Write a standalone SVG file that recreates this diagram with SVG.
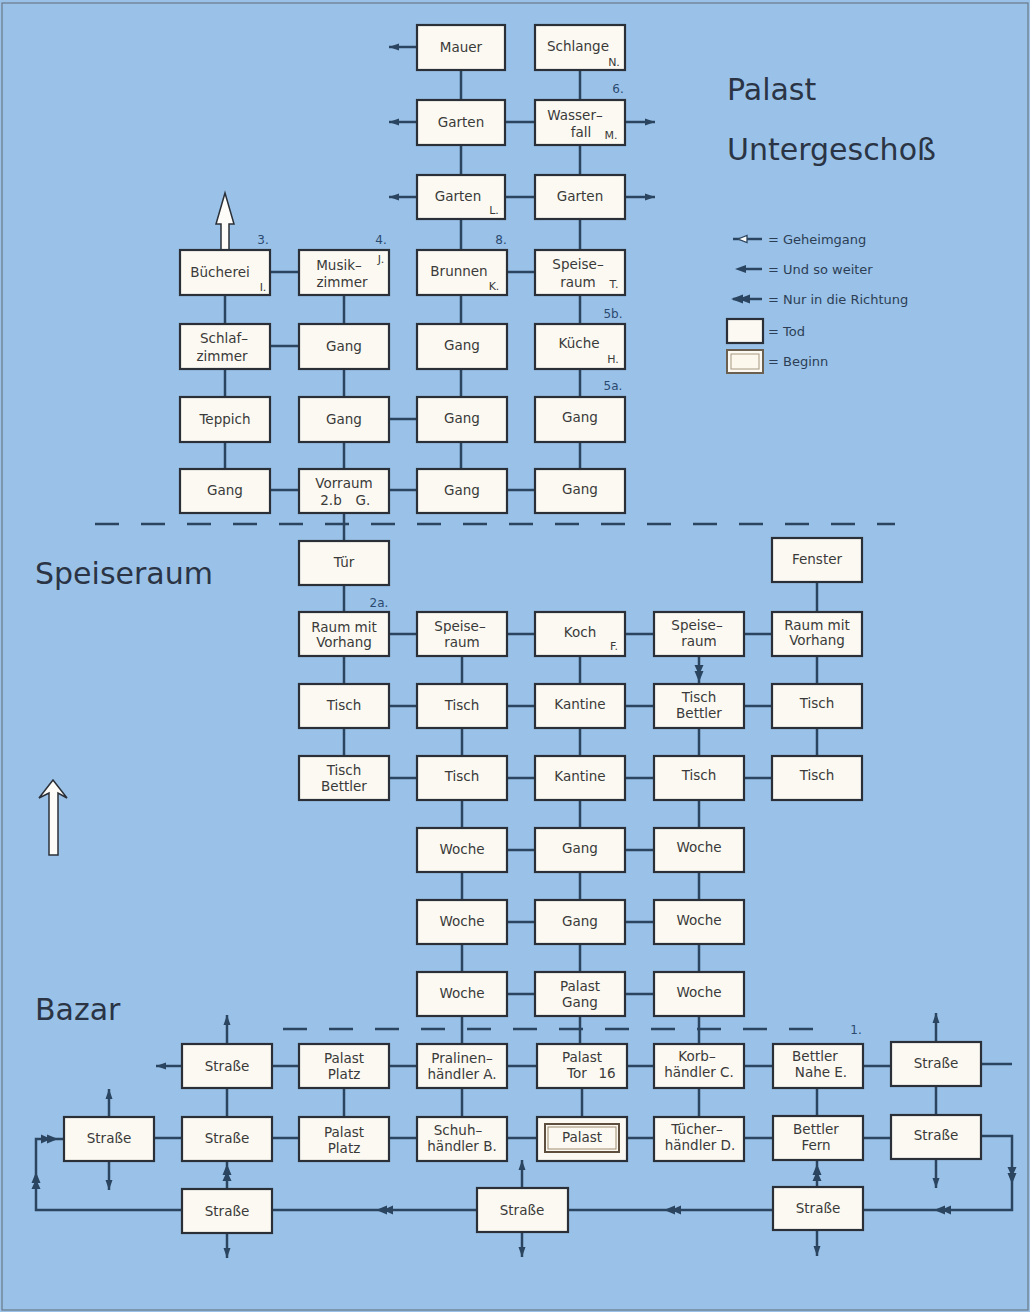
<svg xmlns="http://www.w3.org/2000/svg" xmlns:xlink="http://www.w3.org/1999/xlink" width="1030" height="1312" viewBox="0 0 1030 1312">
<style>
.box{fill:#fbf9f1;stroke:#2b3038;stroke-width:2.2}
.t{font-family:"DejaVu Sans","Liberation Sans",sans-serif;font-size:13.5px;fill:#3a3a3a;text-anchor:middle}
.s{font-family:"DejaVu Sans","Liberation Sans",sans-serif;font-size:11px;fill:#3a3a3a;text-anchor:middle}
.lab{font-family:"DejaVu Sans","Liberation Sans",sans-serif;font-size:12px;fill:#2c4a70;text-anchor:middle}
.h{font-family:"DejaVu Sans","Liberation Sans",sans-serif;font-size:30px;fill:#2a3444}
.lg{font-family:"DejaVu Sans","Liberation Sans",sans-serif;font-size:13px;fill:#2c3e55}
.c{stroke:#2b4560;stroke-width:2.5;fill:none}
.d{stroke:#2b4560;stroke-width:2.5;fill:none;stroke-dasharray:24 22}
.hol{fill:#fdfcf8;stroke:#2b3038;stroke-width:1.5}
</style>
<defs>
<marker id="etc" markerUnits="userSpaceOnUse" markerWidth="12" markerHeight="8" refX="10" refY="4" orient="auto">
<path d="M0,0.5 L10,4 L0,7.5 Z" fill="#2b4560"/>
</marker>
<g id="dbl"><path d="M-9,-4.5 L1,0 L-9,4.5 Z M-3,-4.5 L8,0 L-3,4.5 Z" fill="#2b4560"/></g>
</defs>
<rect x="0" y="0" width="1030" height="1312" fill="#9ac2e8"/>
<rect x="2" y="3" width="1026" height="1307" fill="none" stroke="#6a7888" stroke-width="1.2"/>

<!-- headings -->
<text class="h" x="727" y="100">Palast</text>
<text class="h" x="727" y="160">Untergeschoß</text>
<text class="h" x="35" y="584">Speiseraum</text>
<text class="h" x="35" y="1020">Bazar</text>

<!-- legend -->
<g id="legend">
<line x1="733" y1="239" x2="762" y2="239" class="c" stroke-width="2"/>
<path d="M738,239 L747,235.5 L747,242.5 Z" fill="#fdfcf8" stroke="#2b4560" stroke-width="1.3"/>
<text class="lg" x="768" y="244">=  Geheimgang</text>
<line x1="744" y1="269" x2="762" y2="269" class="c" stroke-width="2"/>
<path d="M735,269 L746,265 L746,273 Z" fill="#2b4560"/>
<text class="lg" x="768" y="274">=  Und so weiter</text>
<line x1="733" y1="299" x2="762" y2="299" class="c" stroke-width="2"/>
<path d="M731,299 L743,294.5 L743,303.5 Z M738,299 L750,294.5 L750,303.5 Z" fill="#2b4560"/>
<text class="lg" x="768" y="304">=  Nur in die Richtung</text>
<rect x="727" y="319" width="36" height="24" class="box"/>
<text class="lg" x="768" y="336">=  Tod</text>
<rect x="727" y="350" width="36" height="23" fill="#fbf9f1" stroke="#6b6050" stroke-width="2"/>
<rect x="731" y="354" width="28" height="15" fill="#fdf8ee" stroke="#a89880" stroke-width="1"/>
<text class="lg" x="768" y="366">=  Beginn</text>
</g>

<!-- connectors -->
<g id="connectors">
<path class="c" d="M461,70V100 M461,145V175 M461,219V250 M461,295V324 M461,369V397 M461,442V469"/>
<path class="c" d="M580,70V100 M580,145V175 M580,219V250 M580,295V324 M580,369V397 M580,442V469"/>
<path class="c" d="M225,295V324 M225,369V397 M225,442V469"/>
<path class="c" d="M344,295V324 M344,369V397 M344,442V469 M344,513V541 M344,585V612"/>
<path class="c" d="M505,122H535 M505,197H535 M270,272H299 M507,272H535 M270,346H299 M389,419H417 M270,490H299 M389,490H417 M507,490H535"/>
<line class="c" x1="417" y1="47" x2="389" y2="47" marker-end="url(#etc)"/>
<line class="c" x1="417" y1="122" x2="389" y2="122" marker-end="url(#etc)"/>
<line class="c" x1="417" y1="197" x2="389" y2="197" marker-end="url(#etc)"/>
<line class="c" x1="625" y1="122" x2="655" y2="122" marker-end="url(#etc)"/>
<line class="c" x1="625" y1="197" x2="655" y2="197" marker-end="url(#etc)"/>
<path class="hol" d="M225,193 L234,224 L229,224 L229,250 L221,250 L221,224 L216,224 Z"/>

<line class="d" x1="95" y1="524" x2="895" y2="524"/>
<line class="d" x1="283" y1="1029" x2="817" y2="1029"/>

<path class="c" d="M817,582V612"/>
<path class="c" d="M389,634H417 M507,634H535 M625,634H654 M744,634H772"/>
<path class="c" d="M344,656V684 M462,656V684 M580,656V684 M817,656V684"/>
<path class="c" d="M699,656V684"/>
<use xlink:href="#dbl" transform="translate(699,674) rotate(90)"/>
<path class="c" d="M389,706H417 M507,706H535 M625,706H654 M744,706H772"/>
<path class="c" d="M344,728V756 M462,728V756 M580,728V756 M699,728V756 M817,728V756"/>
<path class="c" d="M389,778H417 M507,778H535 M625,778H654 M744,778H772"/>
<path class="c" d="M462,800V828 M580,800V828 M699,800V828"/>
<path class="c" d="M507,850H535 M625,850H654"/>
<path class="c" d="M462,872V900 M580,872V900 M699,872V900"/>
<path class="c" d="M507,922H535 M625,922H654"/>
<path class="c" d="M462,944V972 M580,944V972 M699,944V972"/>
<path class="c" d="M507,994H535 M625,994H654"/>
<path class="c" d="M462,1016V1044 M580,1016V1044 M699,1016V1044"/>
<path class="hol" d="M53,780 L67,798 L58,793 L58,855 L49,855 L49,793 L39,798 Z"/>

<path class="c" d="M272,1066H299 M389,1066H417 M507,1066H537 M627,1066H654 M744,1066H773 M863,1066H891 M981,1064H1012"/>
<path class="c" d="M227,1088V1117 M344,1088V1117 M462,1088V1117 M582,1088V1117 M699,1088V1117 M817,1088V1116 M936,1086V1115"/>
<path class="c" d="M154,1138H182 M272,1138H299 M389,1138H417 M507,1138H537 M627,1138H654 M744,1138H773 M863,1138H891"/>
<line class="c" x1="227" y1="1044" x2="227" y2="1015" marker-end="url(#etc)"/>
<line class="c" x1="182" y1="1066" x2="156" y2="1066" marker-end="url(#etc)"/>
<line class="c" x1="936" y1="1042" x2="936" y2="1013" marker-end="url(#etc)"/>
<line class="c" x1="109" y1="1117" x2="109" y2="1089" marker-end="url(#etc)"/>
<line class="c" x1="109" y1="1161" x2="109" y2="1190" marker-end="url(#etc)"/>
<line class="c" x1="936" y1="1159" x2="936" y2="1188" marker-end="url(#etc)"/>
<path class="c" d="M981,1136H1012V1210H863"/>
<use xlink:href="#dbl" transform="translate(1012,1176) rotate(90)"/>
<use xlink:href="#dbl" transform="translate(942,1210) rotate(180)"/>
<path class="c" d="M773,1210H568"/>
<use xlink:href="#dbl" transform="translate(672,1210) rotate(180)"/>
<path class="c" d="M477,1210H272"/>
<use xlink:href="#dbl" transform="translate(384,1210) rotate(180)"/>
<path class="c" d="M182,1210H36V1139H64"/>
<use xlink:href="#dbl" transform="translate(36,1180) rotate(-90)"/>
<use xlink:href="#dbl" transform="translate(50,1139)"/>
<path class="c" d="M227,1189V1161"/>
<use xlink:href="#dbl" transform="translate(227,1172) rotate(-90)"/>
<path class="c" d="M817,1187V1160"/>
<use xlink:href="#dbl" transform="translate(817,1172) rotate(-90)"/>
<line class="c" x1="522" y1="1188" x2="522" y2="1160" marker-end="url(#etc)"/>
<line class="c" x1="227" y1="1233" x2="227" y2="1258" marker-end="url(#etc)"/>
<line class="c" x1="522" y1="1232" x2="522" y2="1257" marker-end="url(#etc)"/>
<line class="c" x1="817" y1="1230" x2="817" y2="1256" marker-end="url(#etc)"/>
</g>

<g id="labels">
<text class="lab" x="618" y="93">6.</text>
<text class="lab" x="501" y="244">8.</text>
<text class="lab" x="263" y="244">3.</text>
<text class="lab" x="381" y="244">4.</text>
<text class="lab" x="613" y="318">5b.</text>
<text class="lab" x="613" y="390">5a.</text>
<text class="lab" x="379" y="607">2a.</text>
<text class="lab" x="856" y="1034">1.</text>
</g>

<g id="n-mauer"><rect class="box" x="417" y="25" width="88" height="45"/><text class="t" x="461" y="52">Mauer</text></g>
<g id="n-schlange"><rect class="box" x="535" y="25" width="90" height="45"/><text class="t" x="578" y="51">Schlange</text><text class="s" x="614" y="66">N.</text></g>
<g id="n-garten1"><rect class="box" x="417" y="100" width="88" height="45"/><text class="t" x="461" y="127">Garten</text></g>
<g id="n-wasserfall"><rect class="box" x="535" y="100" width="90" height="45"/><text class="t" x="575" y="120">Wasser–</text><text class="t" x="581" y="137">fall</text><text class="s" x="611" y="139">M.</text></g>
<g id="n-gartenL"><rect class="box" x="417" y="175" width="88" height="44"/><text class="t" x="458" y="201">Garten</text><text class="s" x="494" y="214">L.</text></g>
<g id="n-garten2"><rect class="box" x="535" y="175" width="90" height="44"/><text class="t" x="580" y="201">Garten</text></g>

<g id="n-buecherei"><rect class="box" x="180" y="250" width="90" height="45"/><text class="t" x="220" y="277">Bücherei</text><text class="s" x="263" y="291">I.</text></g>
<g id="n-musikzimmer"><rect class="box" x="299" y="250" width="90" height="45"/><text class="t" x="339" y="270">Musik–</text><text class="t" x="342" y="287">zimmer</text><text class="s" x="381" y="263">J.</text></g>
<g id="n-brunnen"><rect class="box" x="417" y="250" width="90" height="45"/><text class="t" x="459" y="276">Brunnen</text><text class="s" x="494" y="290">K.</text></g>
<g id="n-speiseraumT"><rect class="box" x="535" y="250" width="90" height="45"/><text class="t" x="578" y="269">Speise–</text><text class="t" x="578" y="287">raum</text><text class="s" x="614" y="288">T.</text></g>

<g id="n-schlafzimmer"><rect class="box" x="180" y="324" width="90" height="45"/><text class="t" x="224" y="343">Schlaf–</text><text class="t" x="222" y="361">zimmer</text></g>
<g id="n-gang-b5"><rect class="box" x="299" y="324" width="90" height="45"/><text class="t" x="344" y="351">Gang</text></g>
<g id="n-gang-c5"><rect class="box" x="417" y="324" width="90" height="45"/><text class="t" x="462" y="350">Gang</text></g>
<g id="n-kueche"><rect class="box" x="535" y="324" width="90" height="45"/><text class="t" x="579" y="348">Küche</text><text class="s" x="613" y="363">H.</text></g>

<g id="n-teppich"><rect class="box" x="180" y="397" width="90" height="45"/><text class="t" x="225" y="424">Teppich</text></g>
<g id="n-gang-b6"><rect class="box" x="299" y="397" width="90" height="45"/><text class="t" x="344" y="424">Gang</text></g>
<g id="n-gang-c6"><rect class="box" x="417" y="397" width="90" height="45"/><text class="t" x="462" y="423">Gang</text></g>
<g id="n-gang-d6"><rect class="box" x="535" y="397" width="90" height="45"/><text class="t" x="580" y="422">Gang</text></g>

<g id="n-gang-a7"><rect class="box" x="180" y="469" width="90" height="44"/><text class="t" x="225" y="495">Gang</text></g>
<g id="n-vorraum"><rect class="box" x="299" y="469" width="90" height="44"/><text class="t" x="344" y="488">Vorraum</text><text class="t" x="331" y="505">2.b</text><text class="t" x="363" y="505">G.</text></g>
<g id="n-gang-c7"><rect class="box" x="417" y="469" width="90" height="44"/><text class="t" x="462" y="495">Gang</text></g>
<g id="n-gang-d7"><rect class="box" x="535" y="469" width="90" height="44"/><text class="t" x="580" y="494">Gang</text></g>

<g id="n-tuer"><rect class="box" x="299" y="541" width="90" height="44"/><text class="t" x="344" y="567">Tür</text></g>
<g id="n-fenster"><rect class="box" x="772" y="538" width="90" height="44"/><text class="t" x="817" y="564">Fenster</text></g>

<g id="n-raum-b"><rect class="box" x="299" y="612" width="90" height="44"/><text class="t" x="344" y="632">Raum mit</text><text class="t" x="344" y="647">Vorhang</text></g>
<g id="n-speise-c"><rect class="box" x="417" y="612" width="90" height="44"/><text class="t" x="460" y="631">Speise–</text><text class="t" x="462" y="647">raum</text></g>
<g id="n-koch"><rect class="box" x="535" y="612" width="90" height="44"/><text class="t" x="580" y="637">Koch</text><text class="s" x="614" y="650">F.</text></g>
<g id="n-speise-e"><rect class="box" x="654" y="612" width="90" height="44"/><text class="t" x="697" y="630">Speise–</text><text class="t" x="699" y="646">raum</text></g>
<g id="n-raum-f"><rect class="box" x="772" y="612" width="90" height="44"/><text class="t" x="817" y="630">Raum mit</text><text class="t" x="817" y="645">Vorhang</text></g>

<g id="n-tisch-b2"><rect class="box" x="299" y="684" width="90" height="44"/><text class="t" x="344" y="710">Tisch</text></g>
<g id="n-tisch-c2"><rect class="box" x="417" y="684" width="90" height="44"/><text class="t" x="462" y="710">Tisch</text></g>
<g id="n-kantine1"><rect class="box" x="535" y="684" width="90" height="44"/><text class="t" x="580" y="709">Kantine</text></g>
<g id="n-tischbettler-e"><rect class="box" x="654" y="684" width="90" height="44"/><text class="t" x="699" y="702">Tisch</text><text class="t" x="699" y="718">Bettler</text></g>
<g id="n-tisch-f2"><rect class="box" x="772" y="684" width="90" height="44"/><text class="t" x="817" y="708">Tisch</text></g>

<g id="n-tischbettler-b"><rect class="box" x="299" y="756" width="90" height="44"/><text class="t" x="344" y="775">Tisch</text><text class="t" x="344" y="791">Bettler</text></g>
<g id="n-tisch-c3"><rect class="box" x="417" y="756" width="90" height="44"/><text class="t" x="462" y="781">Tisch</text></g>
<g id="n-kantine2"><rect class="box" x="535" y="756" width="90" height="44"/><text class="t" x="580" y="781">Kantine</text></g>
<g id="n-tisch-e3"><rect class="box" x="654" y="756" width="90" height="44"/><text class="t" x="699" y="780">Tisch</text></g>
<g id="n-tisch-f3"><rect class="box" x="772" y="756" width="90" height="44"/><text class="t" x="817" y="780">Tisch</text></g>

<g id="n-woche-c4"><rect class="box" x="417" y="828" width="90" height="44"/><text class="t" x="462" y="854">Woche</text></g>
<g id="n-gang-d4"><rect class="box" x="535" y="828" width="90" height="44"/><text class="t" x="580" y="853">Gang</text></g>
<g id="n-woche-e4"><rect class="box" x="654" y="828" width="90" height="44"/><text class="t" x="699" y="852">Woche</text></g>

<g id="n-woche-c5"><rect class="box" x="417" y="900" width="90" height="44"/><text class="t" x="462" y="926">Woche</text></g>
<g id="n-gang-d5"><rect class="box" x="535" y="900" width="90" height="44"/><text class="t" x="580" y="926">Gang</text></g>
<g id="n-woche-e5"><rect class="box" x="654" y="900" width="90" height="44"/><text class="t" x="699" y="925">Woche</text></g>

<g id="n-woche-c6"><rect class="box" x="417" y="972" width="90" height="44"/><text class="t" x="462" y="998">Woche</text></g>
<g id="n-palastgang"><rect class="box" x="535" y="972" width="90" height="44"/><text class="t" x="580" y="991">Palast</text><text class="t" x="580" y="1007">Gang</text></g>
<g id="n-woche-e6"><rect class="box" x="654" y="972" width="90" height="44"/><text class="t" x="699" y="997">Woche</text></g>

<g id="n-strasse-a1"><rect class="box" x="182" y="1044" width="90" height="44"/><text class="t" x="227" y="1071">Straße</text></g>
<g id="n-palastplatz1"><rect class="box" x="299" y="1044" width="90" height="44"/><text class="t" x="344" y="1063">Palast</text><text class="t" x="344" y="1079">Platz</text></g>
<g id="n-pralinen"><rect class="box" x="417" y="1044" width="90" height="44"/><text class="t" x="462" y="1063">Pralinen–</text><text class="t" x="462" y="1079">händler A.</text></g>
<g id="n-palasttor"><rect class="box" x="537" y="1044" width="90" height="44"/><text class="t" x="582" y="1062">Palast</text><text class="t" x="577" y="1078">Tor</text><text class="t" x="607" y="1078">16</text></g>
<g id="n-korb"><rect class="box" x="654" y="1044" width="90" height="44"/><text class="t" x="697" y="1061">Korb–</text><text class="t" x="699" y="1077">händler C.</text></g>
<g id="n-bettlernahe"><rect class="box" x="773" y="1044" width="90" height="44"/><text class="t" x="815" y="1061">Bettler</text><text class="t" x="821" y="1077">Nahe E.</text></g>
<g id="n-strasse-g1"><rect class="box" x="891" y="1042" width="90" height="44"/><text class="t" x="936" y="1068">Straße</text></g>

<g id="n-strasse-l"><rect class="box" x="64" y="1117" width="90" height="44"/><text class="t" x="109" y="1143">Straße</text></g>
<g id="n-strasse-a2"><rect class="box" x="182" y="1117" width="90" height="44"/><text class="t" x="227" y="1143">Straße</text></g>
<g id="n-palastplatz2"><rect class="box" x="299" y="1117" width="90" height="44"/><text class="t" x="344" y="1137">Palast</text><text class="t" x="344" y="1153">Platz</text></g>
<g id="n-schuh"><rect class="box" x="417" y="1117" width="90" height="44"/><text class="t" x="458" y="1135">Schuh–</text><text class="t" x="462" y="1151">händler B.</text></g>
<g id="n-palast"><rect class="box" x="537" y="1117" width="90" height="44"/><rect x="545" y="1124" width="74" height="28" fill="none" stroke="#5e4e3e" stroke-width="2"/><rect x="548" y="1127" width="68" height="22" fill="none" stroke="#a08a70" stroke-width="1"/><text class="t" x="582" y="1142">Palast</text></g>
<g id="n-tuecher"><rect class="box" x="654" y="1117" width="90" height="44"/><text class="t" x="697" y="1134">Tücher–</text><text class="t" x="700" y="1150">händler D.</text></g>
<g id="n-bettlerfern"><rect class="box" x="773" y="1116" width="90" height="44"/><text class="t" x="816" y="1134">Bettler</text><text class="t" x="816" y="1150">Fern</text></g>
<g id="n-strasse-g2"><rect class="box" x="891" y="1115" width="90" height="44"/><text class="t" x="936" y="1140">Straße</text></g>

<g id="n-strasse-a3"><rect class="box" x="182" y="1189" width="90" height="44"/><text class="t" x="227" y="1216">Straße</text></g>
<g id="n-strasse-m3"><rect class="box" x="477" y="1188" width="91" height="44"/><text class="t" x="522" y="1215">Straße</text></g>
<g id="n-strasse-r3"><rect class="box" x="773" y="1187" width="90" height="43"/><text class="t" x="818" y="1213">Straße</text></g>
</svg>
